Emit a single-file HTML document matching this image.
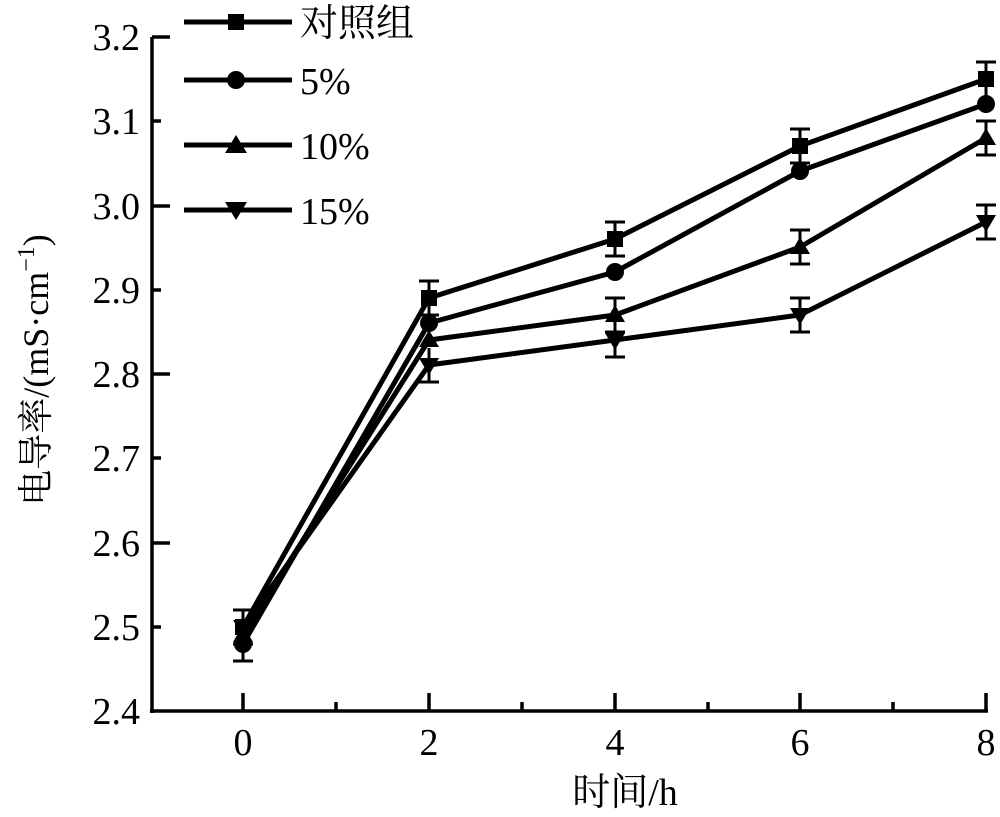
<!DOCTYPE html><html><head><meta charset="utf-8"><style>body{margin:0;background:#fff}svg{display:block}text{font-family:"Liberation Serif","Noto Serif CJK SC",serif;fill:#000}</style></head><body>
<svg width="1000" height="817" viewBox="0 0 1000 817">
<g stroke="#000" stroke-width="3.5" fill="none">
<path d="M152 37V713M150 711H988"/>
<path d="M152 37h18M152 121h9M152 206h18M152 290h9M152 374h18M152 458h9M152 543h18M152 627h9"/>
<path d="M243 711v-18M336 711v-9M429 711v-18M522 711v-9M615 711v-18M708 711v-9M800 711v-18M893 711v-9M986 711v-18"/>
</g>
<g font-size="38" text-anchor="end">
<text x="140" y="50">3.2</text><text x="140" y="134">3.1</text><text x="140" y="219">3.0</text><text x="140" y="303">2.9</text><text x="140" y="387">2.8</text><text x="140" y="471">2.7</text><text x="140" y="556">2.6</text><text x="140" y="640">2.5</text><text x="140" y="724">2.4</text>
</g>
<g font-size="38" text-anchor="middle">
<text x="243" y="755">0</text><text x="429" y="755">2</text><text x="615" y="755">4</text><text x="800" y="755">6</text><text x="986" y="755">8</text>
<text x="625" y="805">时间/h</text>
</g>
<text font-size="36" text-anchor="middle" transform="translate(48 370) rotate(-90)">电导率/(mS·cm<tspan font-size="24" dy="-14">−1</tspan><tspan dy="14">)</tspan></text>
<g id="d" stroke="#000" stroke-width="5" fill="none">
<polyline points="243,627 429,298 615,239 800,146 986,79"/>
<polyline points="243,644 429,323 615,272 800,171 986,104"/>
<polyline points="243,635 429,340 615,315 800,247 986,138"/>
<polyline points="243,627 429,365 615,340 800,315 986,222"/>
</g>
<g stroke="#000" stroke-width="3" fill="none">
<path d="M243 610v34M233 610h20M233 644h20M243 627v34M233 661h20"/>
<path d="M429 281v34M419 281h20M419 315h20M429 348v34M419 382h20"/>
<path d="M615 222v34M605 222h20M605 256h20M615 298v34M605 298h20M605 332h20M615 323v34M605 357h20"/>
<path d="M800 129v34M790 129h20M790 163h20M800 230v34M790 230h20M790 264h20M800 298v34M790 298h20M790 332h20"/>
<path d="M986 62v34M976 62h20M986 121v34M976 121h20M976 155h20M986 205v34M976 205h20M976 239h20"/>
</g>
<g fill="#000">
<rect x="235" y="619" width="16" height="16"/><rect x="421" y="290" width="16" height="16"/><rect x="607" y="231" width="16" height="16"/><rect x="792" y="138" width="16" height="16"/><rect x="978" y="71" width="16" height="16"/>
<circle cx="243" cy="644" r="9"/><circle cx="429" cy="323" r="9"/><circle cx="615" cy="272" r="9"/><circle cx="800" cy="171" r="9"/><circle cx="986" cy="104" r="9"/>
<path d="M243 625l10 17h-20zM429 330l10 17h-20zM615 305l10 17h-20zM800 237l10 17h-20zM986 128l10 17h-20z"/>
<path d="M243 637l10-17h-20zM429 375l10-17h-20zM615 350l10-17h-20zM800 325l10-17h-20zM986 232l10-17h-20z"/>
</g>
<g stroke="#000" stroke-width="5"><path d="M184 22H292M184 80H292M184 145H292M184 210H292"/></g>
<g fill="#000"><rect x="228" y="14" width="16" height="16"/><circle cx="236" cy="80" r="9"/><path d="M236 135l11 18h-22zM236 220l11-18h-22z"/></g>
<g font-size="38"><text x="300" y="36">对照组</text><text x="300" y="94">5%</text><text x="300" y="159">10%</text><text x="300" y="224">15%</text></g>
</svg></body></html>
